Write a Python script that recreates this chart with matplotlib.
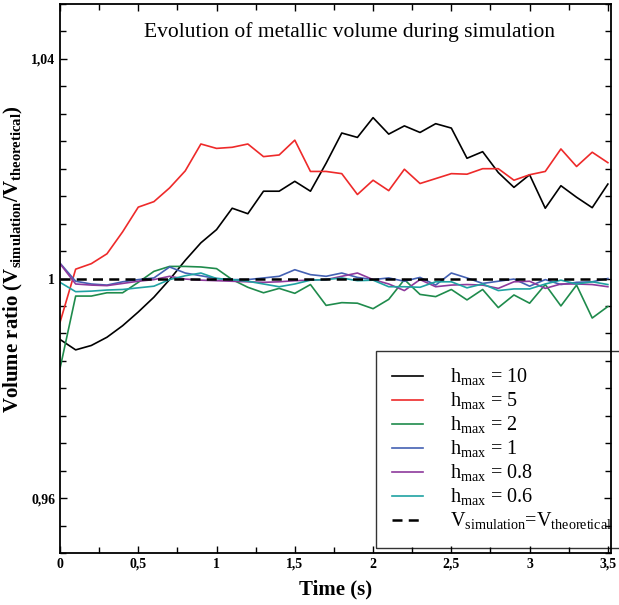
import numpy as np
import matplotlib
matplotlib.use("Agg")
import matplotlib.pyplot as plt
from matplotlib.ticker import MultipleLocator, FuncFormatter

plt.rcParams['font.family'] = ['Liberation Serif', 'DejaVu Serif']
plt.rcParams['mathtext.fontset'] = 'custom'
plt.rcParams['mathtext.rm'] = 'Liberation Serif'
plt.rcParams['mathtext.bf'] = 'Liberation Serif:bold'

# time steps, 0 to 3.5 s every 0.1 s
time = [round(0.1 * i, 1) for i in range(36)]

h10 = [0.9889, 0.9870, 0.9878, 0.9893, 0.9914, 0.9939, 0.9966, 0.9998, 1.0033, 1.0065,
       1.0089, 1.0128, 1.0118, 1.0159, 1.0159, 1.0177, 1.0159, 1.0210, 1.0265, 1.0257,
       1.0293, 1.0263, 1.0278, 1.0266, 1.0282, 1.0274, 1.0219, 1.0231, 1.0193, 1.0166,
       1.0189, 1.0128, 1.0169, 1.0148, 1.0129, 1.0172]
h5 = [0.9920, 1.0017, 1.0027, 1.0045, 1.0085, 1.0130, 1.0140, 1.0165, 1.0196, 1.0245,
      1.0237, 1.0239, 1.0245, 1.0222, 1.0225, 1.0252, 1.0195, 1.0195, 1.0191, 1.0153,
      1.0179, 1.0160, 1.0199, 1.0173, 1.0182, 1.0191, 1.0190, 1.0200, 1.0200, 1.0179,
      1.0189, 1.0195, 1.0236, 1.0204, 1.0230, 1.0211]
h2 = [0.9836, 0.9968, 0.9968, 0.9974, 0.9974, 0.9993, 1.0013, 1.0022, 1.0022, 1.0021,
      1.0018, 0.9998, 0.9984, 0.9974, 0.9982, 0.9973, 0.9989, 0.9951, 0.9956, 0.9955,
      0.9945, 0.9962, 0.9998, 0.9971, 0.9967, 0.9980, 0.9961, 0.9980, 0.9947, 0.9970,
      0.9955, 0.9989, 0.9950, 0.9988, 0.9928, 0.9949]
h1 = [1.0028, 0.9995, 0.9990, 0.9988, 0.9994, 0.9998, 1.0001, 1.0021, 1.0010, 1.0005,
      1.0000, 0.9998, 0.9998, 1.0001, 1.0004, 1.0016, 1.0007, 1.0004, 1.0010, 1.0002,
      0.9998, 1.0001, 0.9995, 1.0002, 0.9988, 1.0010, 1.0001, 0.9991, 0.9995, 0.9999,
      0.9986, 0.9998, 0.9989, 0.9993, 0.9994, 1.0000]
h08 = [1.0027, 0.9990, 0.9988, 0.9987, 0.9991, 0.9995, 0.9998, 1.0004, 0.9999, 0.9997,
       0.9996, 0.9995, 0.9994, 0.9993, 0.9994, 0.9996, 0.9997, 0.9998, 1.0004, 1.0010,
       0.9998, 0.9990, 0.9978, 0.9998, 0.9985, 0.9988, 0.9989, 0.9988, 0.9982, 0.9994,
       0.9995, 0.9982, 0.9990, 0.9990, 0.9989, 0.9985]
h06 = [0.9993, 0.9976, 0.9977, 0.9979, 0.9980, 0.9983, 0.9986, 0.9998, 1.0005, 1.0010,
       1.0000, 0.9998, 0.9995, 0.9990, 0.9985, 0.9990, 0.9997, 0.9998, 1.0001, 0.9996,
       0.9997, 0.9985, 0.9985, 0.9984, 0.9994, 0.9994, 0.9983, 0.9990, 0.9978, 0.9981,
       0.9981, 0.9990, 0.9997, 0.9990, 0.9994, 0.9989]

series = [h10, h5, h2, h1, h08, h06]
labels = [r'h$_{\mathrm{max}}$ = 10', r'h$_{\mathrm{max}}$ = 5', r'h$_{\mathrm{max}}$ = 2',
          r'h$_{\mathrm{max}}$ = 1', r'h$_{\mathrm{max}}$ = 0.8', r'h$_{\mathrm{max}}$ = 0.6']
colors = ['black', '#ee2a2a', '#1f8b4c', '#4461b3', '#8e3a9c', '#1fa2a2']

fig = plt.figure(figsize=(6.19, 6.05), dpi=100)
ax = fig.add_axes([60/619, 1 - 553/605, 551/619, 549/605])

for vals, lab, col in zip(series, labels, colors):
    ax.plot(time, vals, color=col, lw=1.2, label=lab)
ax.axhline(1.0, color='black', lw=1.8, ls=(0, (4, 2.5)),
           label=r'V$_{\mathrm{simulation}}$=V$_{\mathrm{theoretical}}$')

ax.set_xlim(0, 3.52)
ax.set_ylim(0.95, 1.05)
ax.xaxis.set_major_locator(MultipleLocator(0.5))
ax.xaxis.set_minor_locator(MultipleLocator(0.25))
ax.yaxis.set_major_locator(MultipleLocator(0.04))
ax.yaxis.set_minor_locator(MultipleLocator(0.005))

fmt = FuncFormatter(lambda v, p: ('%g' % round(v, 4)).replace('.', ','))
ax.xaxis.set_major_formatter(fmt)
ax.yaxis.set_major_formatter(fmt)
ax.tick_params(which='both', direction='in', top=True, right=True, width=1.0)
ax.tick_params(which='major', length=5, labelsize=10)
ax.tick_params(which='minor', length=4)
for t in ax.get_xticklabels() + ax.get_yticklabels():
    t.set_fontweight('bold')
for s in ax.spines.values():
    s.set_linewidth(1.3)

ax.set_xlabel('Time (s)', fontsize=15, fontweight='bold', labelpad=6)
ax.set_ylabel(r'Volume ratio (V$_{\mathbf{simulation}}$/V$_{\mathbf{theoretical}}$)',
              fontsize=15, fontweight='bold')
ax.yaxis.set_label_coords(-0.064, 0.536)

ax.text(0.526, 0.949, 'Evolution of metallic volume during simulation',
        transform=ax.transAxes, ha='center', va='center', fontsize=15.5)

leg = ax.legend(loc='upper left', bbox_to_anchor=(376/619, 1 - 351/605),
                bbox_transform=fig.transFigure, fontsize=14.5, frameon=True,
                fancybox=False, edgecolor='black', facecolor='none',
                handlelength=1.55, handletextpad=1.3, borderpad=0.8,
                labelspacing=0.13, borderaxespad=0)
leg.get_frame().set_linewidth(1.0)

fig.savefig('out.png', dpi=100)
